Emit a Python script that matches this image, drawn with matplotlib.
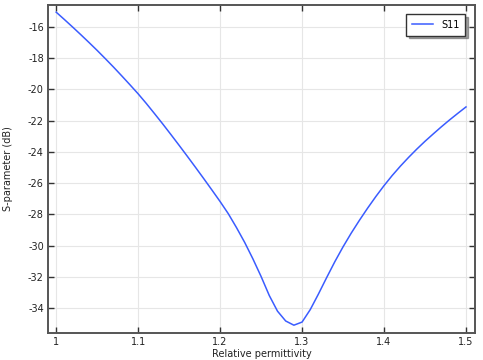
import matplotlib
matplotlib.use("Agg")
import matplotlib.pyplot as plt

plt.rcParams['axes.unicode_minus'] = False
plt.rcParams['font.family'] = ['DejaVu Sans']

permittivity = [1.00, 1.01, 1.02, 1.03, 1.04, 1.05, 1.06, 1.07, 1.08, 1.09,
                1.10, 1.11, 1.12, 1.13, 1.14, 1.15, 1.16, 1.17, 1.18, 1.19,
                1.20, 1.21, 1.22, 1.23, 1.24, 1.25, 1.26, 1.27, 1.28, 1.29,
                1.30, 1.31, 1.32, 1.33, 1.34, 1.35, 1.36, 1.37, 1.38, 1.39,
                1.40, 1.41, 1.42, 1.43, 1.44, 1.45, 1.46, 1.47, 1.48, 1.49, 1.50]
s11_db = [-15.05, -15.52, -16.00, -16.49, -16.99, -17.50, -18.03, -18.57, -19.13, -19.70,
          -20.28, -20.90, -21.55, -22.21, -22.89, -23.58, -24.28, -24.99, -25.71, -26.44,
          -27.18, -27.96, -28.85, -29.80, -30.85, -31.98, -33.20, -34.20, -34.83, -35.10,
          -34.90, -34.10, -33.10, -32.05, -31.03, -30.08, -29.20, -28.38, -27.60, -26.86,
          -26.16, -25.51, -24.91, -24.35, -23.82, -23.32, -22.85, -22.39, -21.95, -21.53, -21.12]

xticks = [1, 1.1, 1.2, 1.3, 1.4, 1.5]
xticklabels = ['1', '1.1', '1.2', '1.3', '1.4', '1.5']
yticks = [-34, -32, -30, -28, -26, -24, -22, -20, -18, -16]

fig = plt.figure(figsize=(4.83, 3.6), dpi=100)
ax = fig.add_axes([48/483, 27/360, 427/483, 328/360])

ax.plot(permittivity, s11_db, color='#3a5cff', lw=1.1, label='S11')

ax.set_xlim(0.99, 1.511)
ax.set_ylim(-35.6, -14.59)
ax.set_xticks(xticks)
ax.set_xticklabels(xticklabels)
ax.set_yticks(yticks)
ax.set_yticklabels([str(v) for v in yticks])

ax.grid(True, color='#e6e6e6', lw=0.8)
ax.set_axisbelow(True)
for sp in ax.spines.values():
    sp.set_color('#555555')
    sp.set_linewidth(1.4)

ax.tick_params(direction='in', length=4, width=1, color='#333333',
               labelsize=7, labelcolor='#222222', top=True, right=True, pad=3)

ax.set_xlabel('Relative permittivity', fontsize=7, labelpad=1, color='#222222')
ax.set_ylabel('S-parameter (dB)', fontsize=7, labelpad=11, color='#222222')

leg = ax.legend(loc='upper right', fontsize=7, fancybox=False, shadow=True,
                framealpha=1, edgecolor='#333333', handlelength=2.2,
                borderpad=0.6, borderaxespad=0.0,
                bbox_to_anchor=(0.977, 0.973))
leg.get_frame().set_linewidth(1.0)

fig.savefig('out.png', dpi=100)
